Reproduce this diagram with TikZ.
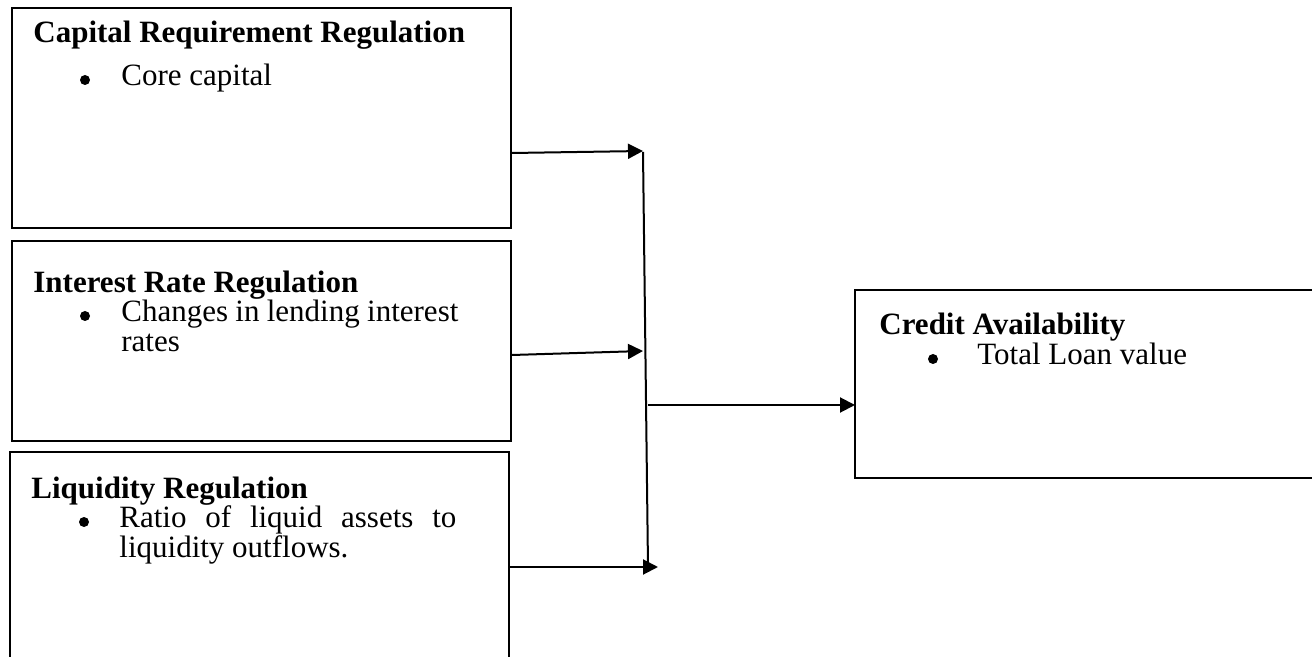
\documentclass[tikz,border=0pt]{standalone}
\usepackage{fontspec}
\setmainfont{Liberation Serif}
\usetikzlibrary{arrows.meta}
\begin{document}
\begin{tikzpicture}[x=0.5pt,y=-0.5pt,
  box/.style={draw=black,line width=0.8pt,anchor=north west,inner sep=0pt,outer sep=0pt},
  ttl/.style={anchor=base west,inner sep=0pt,font=\fontsize{15.5pt}{17.5pt}\selectfont\bfseries},
  txt/.style={anchor=base west,inner sep=0pt,font=\fontsize{15.5pt}{17.5pt}\selectfont},
  bul/.style={circle,fill=black,inner sep=0pt,minimum size=5pt},
  arr/.style={line width=1pt,-{Triangle[length=7.5pt,width=7.5pt]}},
  ln/.style={line width=1pt}]
\useasboundingbox (0,0) rectangle (1312,657);
% boxes
\node[box,minimum width=249.5pt,minimum height=110pt] (b1) at (12,8) {};
\node[box,minimum width=249.5pt,minimum height=100pt] (b2) at (12,241) {};
\node[box,minimum width=249.5pt,minimum height=130pt] (b3) at (10,452) {};
\node[box,minimum width=240pt,minimum height=94pt] (b4) at (855,290) {};
% box 1 text
\node[ttl] (t1) at (33,43) {Capital Requirement Regulation};
\node[bul] (d1) at (85,80) {};
\node[txt] (i1) at (121,86) {Core capital};
% box 2 text
\node[ttl] (t2) at (33,293) {Interest Rate Regulation};
\node[bul] (d2) at (85,316) {};
\node[txt] (i2a) at (121,322) {\makebox[168.5pt][s]{Changes in lending interest}};
\node[txt] (i2b) at (121,352) {rates};
% box 3 text
\node[ttl] (t3) at (31,499) {Liquidity Regulation};
\node[bul] (d3) at (84,522) {};
\node[txt] (i3a) at (119,528) {\makebox[168.5pt][s]{Ratio of liquid assets to}};
\node[txt] (i3b) at (119,557) {liquidity outflows.};
% box 4 text
\node[ttl] (t4) at (879,335) {Credit Availability};
\node[bul] (d4) at (933,359) {};
\node[txt] (i4) at (977,365) {Total Loan value};
% connectors
\coordinate (s1) at (512,153);
\coordinate (e1) at (643,151);
\coordinate (s2) at (512,355);
\coordinate (e2) at (643,351);
\coordinate (s3) at (510,567);
\coordinate (e3) at (658,567);
\coordinate (vt) at (643,152);
\coordinate (vb) at (648,567);
\coordinate (m) at (648,405);
\draw[arr] (s1) -- (e1);
\draw[arr] (s2) -- (e2);
\draw[arr] (s3) -- (e3);
\draw[ln] (vt) -- (vb);
\draw[arr] (m) -- (b4.west |- m);
\end{tikzpicture}
\end{document}
